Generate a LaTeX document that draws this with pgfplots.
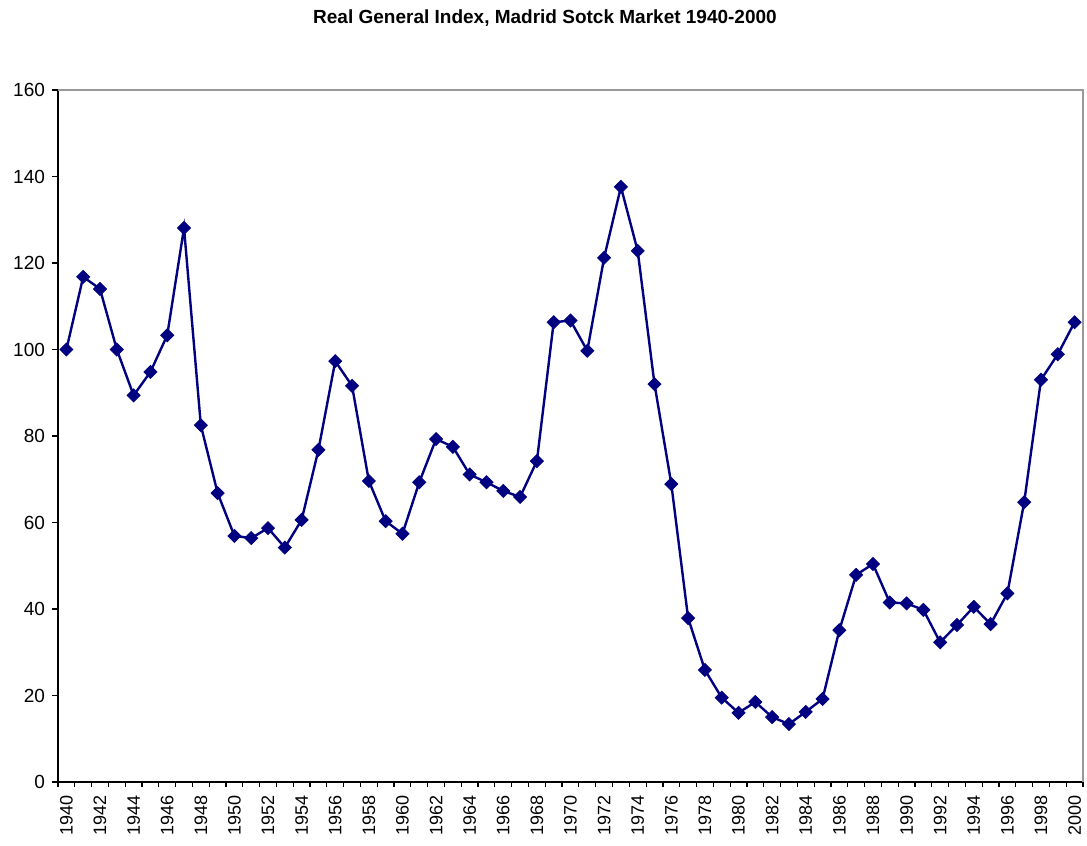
\documentclass[border=0pt]{standalone}
\usepackage{pgfplots}
\pgfplotsset{compat=1.18}
\usepackage{fontspec}
\setmainfont{Liberation Sans}
\definecolor{navy}{HTML}{000080}
\pgfplotstableread{
x y
0 100.0
1 116.8
2 114.0
3 100.0
4 89.4
5 94.8
6 103.3
7 128.1
8 82.5
9 66.8
10 56.9
11 56.4
12 58.7
13 54.2
14 60.6
15 76.8
16 97.3
17 91.6
18 69.6
19 60.3
20 57.4
21 69.3
22 79.3
23 77.5
24 71.1
25 69.3
26 67.3
27 65.9
28 74.2
29 106.3
30 106.7
31 99.7
32 121.2
33 137.6
34 122.8
35 92.0
36 68.9
37 37.9
38 25.9
39 19.5
40 16.0
41 18.5
42 15.0
43 13.4
44 16.2
45 19.2
46 35.1
47 47.9
48 50.4
49 41.5
50 41.3
51 39.8
52 32.3
53 36.3
54 40.5
55 36.5
56 43.6
57 64.7
58 93.0
59 98.9
60 106.3
}\datatable
\begin{document}
\begin{tikzpicture}
\begin{axis}[
  name=main,
  at={(0,0)}, anchor=south west,
  scale only axis,
  width=512.5pt, height=346pt,
  xmin=-0.5, xmax=60.5,
  ymin=0, ymax=160,
  axis x line*=bottom, axis y line*=left,
  axis line style={black, line width=0.6pt},
  ytick={0,20,...,160},
  xtick={0,2,...,60},
  xticklabels={1940,1942,1944,1946,1948,1950,1952,1954,1956,1958,1960,1962,1964,1966,1968,1970,1972,1974,1976,1978,1980,1982,1984,1986,1988,1990,1992,1994,1996,1998,2000},
  minor xtick={-0.5,0.5,...,60.5},
  x tick style={draw=none},
  minor x tick style={draw=black, line width=0.6pt},
  minor tick length=2.5pt,
  y tick style={black, line width=0.6pt},
  major tick length=3pt,
  tick align=outside,
  xticklabel style={rotate=90, anchor=east, font=\fontsize{9}{10}\selectfont},
  yticklabel style={font=\fontsize{9.5}{11}\selectfont},
  /pgf/number format/assume math mode=true,
  clip=false,
]
\draw[gray!80, line width=0.6pt] (rel axis cs:0,1) -- (rel axis cs:1,1) -- (rel axis cs:1,0);
\addplot[navy, line width=1.2pt, mark=square*, mark size=2.3pt, mark options={rotate=45, fill=navy, draw=navy, line width=0.4pt}] table[x=x, y=y] {\datatable};
\end{axis}
\node[font=\bfseries\fontsize{9.5}{11}\selectfont] at (243.5pt, 382pt) {Real General Index, Madrid Sotck Market 1940-2000};
\pgfresetboundingbox
\path (-29pt,-32pt) rectangle (514.5pt,391pt);
\end{tikzpicture}
\end{document}
